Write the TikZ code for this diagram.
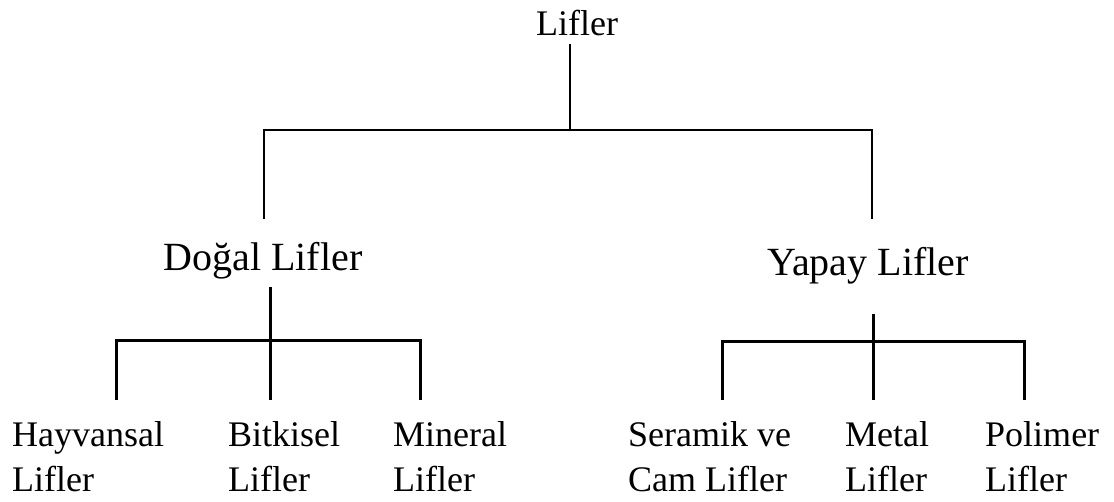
\documentclass[tikz,border=0pt]{standalone}
\usepackage{fontspec}
\setmainfont{Liberation Serif}
\usetikzlibrary{positioning}

\begin{document}
\begin{tikzpicture}[
x=1pt, y=-1pt,
rootlbl/.style={inner sep=0pt, font=\fontsize{36}{42}\selectfont},
midlbl/.style={inner sep=0pt, font=\fontsize{40}{47}\selectfont},
leaf/.style={inner sep=0pt, anchor=north west, align=left,
font=\fontsize{36}{45}\selectfont},
thinline/.style={line width=1.5pt},
thickline/.style={line width=3pt}
]

\useasboundingbox (0,0) rectangle (1114,501);

\node[rootlbl, anchor=base] (lifler) at (577,35) {Lifler};
\node[midlbl, anchor=base] (dogal) at (263,270) {Doğal Lifler};
\node[midlbl, anchor=base] (yapay) at (868,275) {Yapay Lifler};

\node[leaf] (hayvansal) at (12,421) {Hayvansal\\Lifler};
\node[leaf] (bitkisel) at (228,421) {Bitkisel\\Lifler};
\node[leaf] (mineral) at (393,421) {Mineral\\Lifler};
\node[leaf] (seramik) at (628,421) {Seramik ve\\Cam Lifler};
\node[leaf] (metal) at (845,421) {Metal\\Lifler};
\node[leaf] (polimer) at (985,421) {Polimer\\Lifler};

% ust seviye
\coordinate (bar1) at (570,130);
\draw[thinline] ([yshift=-8pt]lifler.south -| bar1) -- (bar1);
\draw[thinline] ([xshift=1pt, yshift=23pt]dogal.north) |- (bar1)
  -| ([xshift=4pt, yshift=28pt]yapay.north);

% dogal lifler
\coordinate (bar2) at (270,340);
\coordinate (dl) at (116,400);
\coordinate (dm) at (270,400);
\coordinate (dr) at (420,400);
\draw[thickline] ([yshift=-8pt]dogal.south -| dm) -- (dm);
\draw[thickline] (dl) |- (bar2) -| (dr);

% yapay lifler
\coordinate (bar3) at (873,341);
\coordinate (yl) at (722,400);
\coordinate (ym) at (873,400);
\coordinate (yr) at (1024,400);
\draw[thickline] ([yshift=-30pt]yapay.south -| ym) -- (ym);
\draw[thickline] (yl) |- (bar3) -| (yr);

\end{tikzpicture}
\end{document}
